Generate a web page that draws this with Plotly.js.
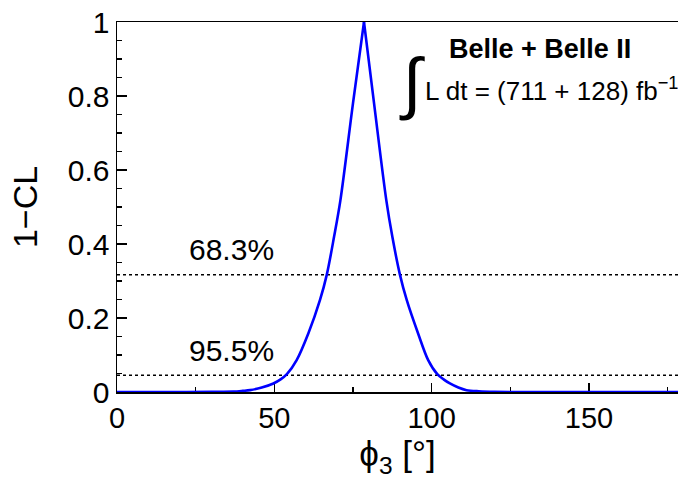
<!DOCTYPE html>
<html>
<head>
<meta charset="utf-8">
<script src="https://cdn.plot.ly/plotly-3.0.1.min.js"></script>
<style>html,body{margin:0;padding:0;background:#fff;overflow:hidden}</style>
</head>
<body>
<div id="chart" style="width:678px;height:480px"></div>
<script>
// phi3 scan (degrees) and 1-CL values
const phi3 = [0, 20, 30, 37, 40, 42.3, 46, 49.7, 52, 54, 57.1, 60.8, 64.5, 66.7, 69.0, 71.0, 75.0, 78.5, 81.7, 85.6, 87.5, 89.9, 92.1, 95.7, 98.9, 101.8, 103.8, 105.8, 108.5, 111.1, 115, 120, 130, 180];
const oneMinusCL = [0, 0, 0.0005, 0.001, 0.003, 0.005, 0.012, 0.023, 0.034, 0.048, 0.086, 0.158, 0.248, 0.318, 0.420, 0.518, 0.78, 1.0, 0.78, 0.518, 0.420, 0.318, 0.248, 0.158, 0.086, 0.048, 0.034, 0.023, 0.012, 0.005, 0.002, 0.0005, 0, 0];
// confidence levels
const clValues = [0.317, 0.045];
const clLabels = ['68.3%', '95.5%'];
const xTicks = [0, 50, 100, 150];
const xTickText = ['0', '50', '100', '150'];
const yTicks = [0, 0.2, 0.4, 0.6, 0.8, 1];
const yTickText = ['0', '0.2', '0.4', '0.6', '0.8', '1'];
const experimentLabel = 'Belle + Belle II';
const lumiLabel = 'L dt = (711 + 128) fb<sup>−1</sup>';

const FONT = '"Liberation Sans", Arial, Helvetica, sans-serif';
const XMAX = 178.3;

const traces = [];
clValues.forEach(v => {
  traces.push({
    x: [0, XMAX], y: [v, v], mode: 'lines', type: 'scatter',
    line: {color: '#000', width: 1.5, dash: 'dot'}, hoverinfo: 'skip', showlegend: false
  });
});
// draw the curve as two smooth halves that meet at the cusp (the maximum)
let iPeak = 0;
oneMinusCL.forEach((v, i) => { if (v > oneMinusCL[iPeak]) iPeak = i; });
[[0, iPeak + 1], [iPeak, phi3.length]].forEach(([a, b]) => {
  traces.push({
    x: phi3.slice(a, b), y: oneMinusCL.slice(a, b), mode: 'lines', type: 'scatter',
    line: {color: '#0000ff', width: 2.6, shape: 'spline', smoothing: 0.9},
    cliponaxis: false, showlegend: false
  });
});

const annotations = [];
const labelY = [0.334, 0.062];
clLabels.forEach((t, i) => {
  annotations.push({
    x: 22.3, y: labelY[i], xref: 'x', yref: 'y', text: t, showarrow: false,
    xanchor: 'left', yanchor: 'bottom', font: {family: FONT, size: 30, color: '#000'}
  });
});
annotations.push({
  x: 134.4, y: 0.926, xref: 'x', yref: 'y', text: '<b>' + experimentLabel + '</b>', showarrow: false,
  xanchor: 'center', yanchor: 'middle', font: {family: FONT, size: 27, color: '#000'}
});
annotations.push({
  x: 93.8, y: 0.836, xref: 'x', yref: 'y', text: '∫', showarrow: false,
  xanchor: 'center', yanchor: 'middle', font: {family: FONT, size: 68, color: '#000'}
});
annotations.push({
  x: 97.2, y: 0.818, xref: 'x', yref: 'y', text: lumiLabel, showarrow: false,
  xanchor: 'left', yanchor: 'middle', font: {family: FONT, size: 26, color: '#000'}
});

const layout = {
  width: 678, height: 480,
  margin: {l: 117, r: 0, t: 22, b: 88, pad: 0},
  paper_bgcolor: '#fff', plot_bgcolor: '#fff',
  font: {family: FONT, color: '#000'},
  showlegend: false,
  xaxis: {
    range: [0, XMAX], tickvals: xTicks, ticktext: xTickText,
    ticks: 'inside', ticklen: 9, tickwidth: 1.2, tickcolor: '#000',
    minor: {dtick: 25, tick0: 0, ticks: 'inside', ticklen: 5, tickwidth: 1.2, tickcolor: '#000'},
    showline: true, linecolor: '#000', linewidth: 1.5, mirror: true,
    showgrid: false, zeroline: false, layer: 'below traces',
    tickfont: {family: FONT, size: 29, color: '#000'},
    automargin: false,
    title: {text: 'ϕ<sub>3</sub> [°]', font: {family: FONT, size: 35, color: '#000'}, standoff: 6}
  },
  yaxis: {
    range: [0, 1], tickvals: yTicks, ticktext: yTickText,
    ticks: 'inside', ticklen: 10, tickwidth: 1.2, tickcolor: '#000',
    minor: {dtick: 0.05, tick0: 0, ticks: 'inside', ticklen: 5, tickwidth: 1.2, tickcolor: '#000'},
    showline: true, linecolor: '#000', linewidth: 1.5, mirror: false,
    showgrid: false, zeroline: false, layer: 'below traces',
    tickfont: {family: FONT, size: 30, color: '#000'},
    automargin: false,
    title: {text: '1−CL', font: {family: FONT, size: 34, color: '#000'}, standoff: 20}
  },
  annotations: annotations
};

Plotly.newPlot('chart', traces, layout, {displayModeBar: false, staticPlot: true});
</script>
</body>
</html>
